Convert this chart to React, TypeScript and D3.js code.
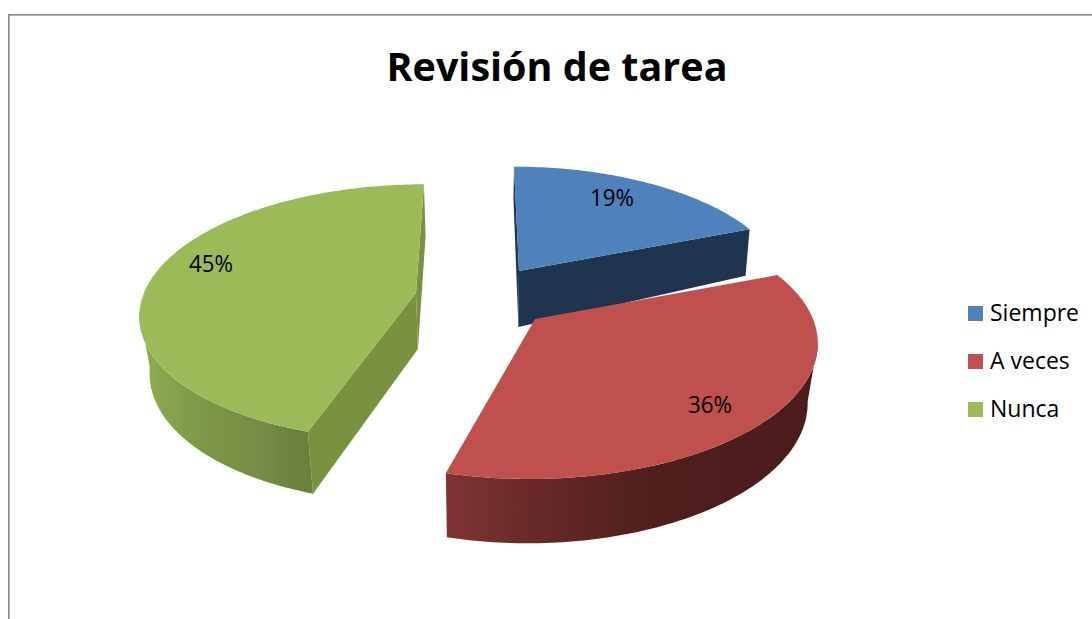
import React from "react";
import * as d3 from "d3";

const categories = ["Siempre", "A veces", "Nunca"];
const values = [19, 36, 45];
const percentLabels = ["19%", "36%", "45%"];
const chartTitle = "Revisión de tarea";
const faceColors = ["#4f81bd", "#bf504d", "#9bbb59"];
const sideColors = ["#1f344f", "#4b1d1c", "#78923f"];

const WIDTH = 1092;
const HEIGHT = 619;
const FONT = "'Open Sans', 'Noto Sans', sans-serif";

// Projection of each exploded slice: a tilted circle seen in perspective.
// wallFrom / wallTo limit the outer wall to the part facing the viewer (degrees).
const sliceViews = [
  { cx: 519, cy: 271, rx: 264, ry: 120, k: 0.15, skew: 0.048, nudgeEnd: 0, d0: 56, dSlope: 0.225, taper: 0.985, labelDeg: 31, labelF: 0.78, wallFrom: null, wallTo: null, sides: true },
  { cx: 535, cy: 319, rx: 278, ry: 128, k: 0.2, skew: -0.037, nudgeEnd: -4, d0: 59, dSlope: 0.033, taper: 0.97, labelDeg: 136.5, labelF: 0.82, wallFrom: 100, wallTo: 194, sides: false },
  { cx: 416, cy: 293, rx: 272, ry: 125, k: 0.15, skew: -0.073, nudgeEnd: 0, d0: 56, dSlope: 0.043, taper: 0.97, labelDeg: 287, labelF: 0.825, wallFrom: 198, wallTo: 262, sides: true },
];
const TAPER_X = 480;

type View = (typeof sliceViews)[number];
type Pt = [number, number];

const rad = (deg: number) => (deg * Math.PI) / 180;

function project(v: View, theta: number, f = 1): Pt {
  const w = 1 + v.k * f * Math.cos(theta);
  const X = (v.rx * f * Math.sin(theta)) / w;
  const Y = (-v.ry * f * Math.cos(theta)) / w;
  return [v.cx + X + v.skew * Y, v.cy + Y];
}

function drop(v: View, p: Pt): Pt {
  return [
    TAPER_X + v.taper * (p[0] - TAPER_X),
    p[1] + v.d0 + v.dSlope * (p[1] - v.cy),
  ];
}

function sampleArc(v: View, t0: number, t1: number): Pt[] {
  const n = Math.ceil((Math.abs(t1 - t0) * 180) / Math.PI);
  return d3.range(n + 1).map((j) => project(v, t0 + ((t1 - t0) * j) / n));
}

const pieLayout = d3.pie<number>().sort(null).startAngle(0).endAngle(2 * Math.PI);
const colorOf = d3.scaleOrdinal<string, string>().domain(categories).range(faceColors);
const legendY = d3.scalePoint<string>().domain(categories).range([313.5, 409.5]);
const closed = d3.line<Pt>().curve(d3.curveLinearClosed);

export default function App() {
  const arcs = pieLayout(values);
  const slices = arcs.map((a, i) => {
    const v = sliceViews[i];
    const t0 = a.startAngle;
    const t1 = a.endAngle + rad(v.nudgeEnd);
    const outer = sampleArc(v, t0, t1);
    const apex: Pt = [v.cx, v.cy];
    const first = outer[0];
    const last = outer[outer.length - 1];
    const wallArc = v.wallFrom === null ? null : sampleArc(v, rad(v.wallFrom), rad(v.wallTo as number));
    return {
      i,
      v,
      top: [apex, ...outer],
      wall: wallArc ? [...wallArc, ...wallArc.map((p) => drop(v, p)).reverse()] : null,
      sideA: [apex, first, drop(v, first), drop(v, apex)],
      sideB: [apex, last, drop(v, last), drop(v, apex)],
      label: project(v, rad(v.labelDeg), v.labelF),
    };
  });
  const drawOrder = [0, 2, 1];

  return (
    <svg
      width={WIDTH}
      height={HEIGHT}
      viewBox={`0 0 ${WIDTH} ${HEIGHT}`}
      style={{ position: "absolute", left: 0, top: 0, background: "#fff" }}
    >
      <defs>
        <linearGradient id="wall-1" gradientUnits="userSpaceOnUse" x1={446} x2={815} y1={0} y2={0}>
          <stop offset="0" stopColor="#7f3432" />
          <stop offset="0.25" stopColor="#662927" />
          <stop offset="0.55" stopColor="#4f1f1e" />
          <stop offset="1" stopColor="#4a1c1b" />
        </linearGradient>
        <linearGradient id="wall-2" gradientUnits="userSpaceOnUse" x1={140} x2={314} y1={0} y2={0}>
          <stop offset="0" stopColor="#8fad52" />
          <stop offset="0.35" stopColor="#7d9847" />
          <stop offset="0.7" stopColor="#778b45" />
          <stop offset="1" stopColor="#667f39" />
        </linearGradient>
      </defs>

      <line x1={8} x2={WIDTH} y1={14.5} y2={14.5} stroke="#8c8c8c" strokeWidth={1} />
      <line x1={8} x2={WIDTH} y1={15.5} y2={15.5} stroke="#b0b0b0" strokeWidth={1} />
      <line x1={8.5} x2={8.5} y1={14} y2={HEIGHT} stroke="#8c8c8c" strokeWidth={1} />
      <line x1={9.5} x2={9.5} y1={15} y2={HEIGHT} stroke="#b0b0b0" strokeWidth={1} />

      <text x={557} y={81} textAnchor="middle" fontFamily={FONT} fontWeight={700} fontSize={40} fill="#000"
        textLength={341} lengthAdjust="spacingAndGlyphs">
        {chartTitle}
      </text>

      {drawOrder.map((idx) => {
        const s = slices[idx];
        return (
          <g key={categories[idx]}>
            {s.v.sides && <path d={closed(s.sideB) ?? ""} fill={sideColors[idx]} />}
            {s.v.sides && <path d={closed(s.sideA) ?? ""} fill={sideColors[idx]} />}
            {s.wall && <path d={closed(s.wall) ?? ""} fill={`url(#wall-${idx})`} />}
            <path d={closed(s.top) ?? ""} fill={colorOf(categories[idx])} />
          </g>
        );
      })}

      {slices.map((s) => (
        <text key={percentLabels[s.i]} x={s.label[0]} y={s.label[1] + 8} textAnchor="middle"
          fontFamily={FONT} fontSize={23} fill="#000" textLength={44} lengthAdjust="spacingAndGlyphs">
          {percentLabels[s.i]}
        </text>
      ))}

      {categories.map((c) => (
        <g key={c} transform={`translate(968,${legendY(c)})`}>
          <rect x={0} y={-7.5} width={15} height={15} fill={colorOf(c)} />
          <text x={22} y={7.5} fontFamily={FONT} fontSize={23} fill="#000">{c}</text>
        </g>
      ))}
    </svg>
  );
}
